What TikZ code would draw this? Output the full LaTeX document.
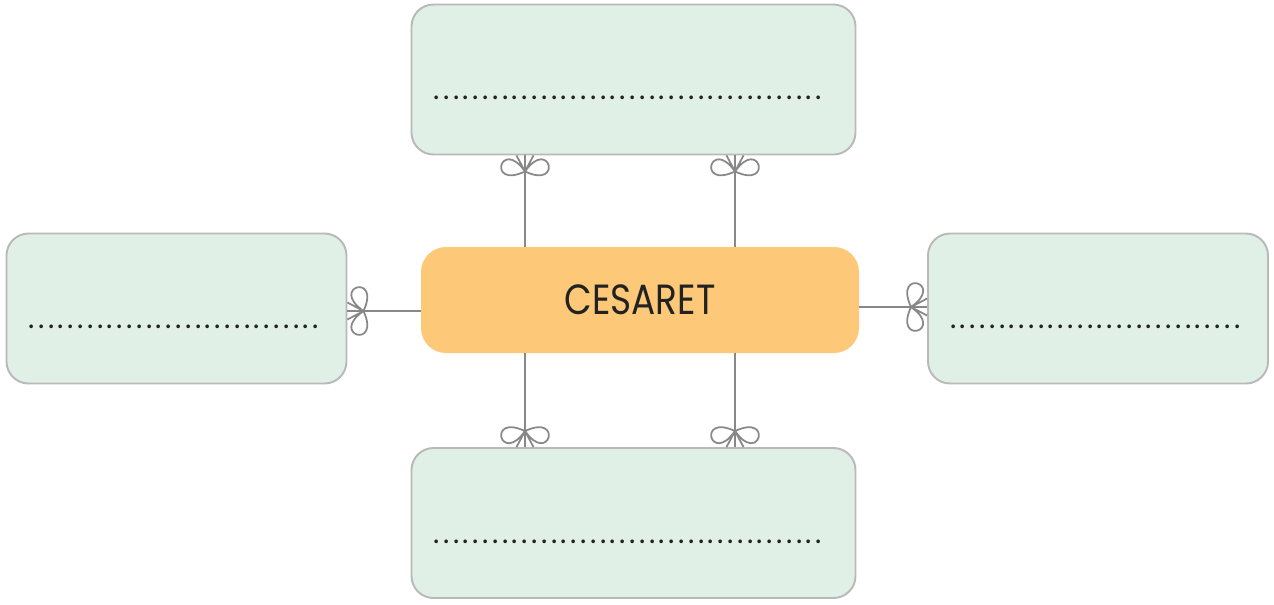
\documentclass[tikz,border=0pt]{standalone}
\usepackage{fontspec}
\setmainfont{Poppins}
\usetikzlibrary{positioning,decorations.markings}
\definecolor{kutuyesil}{HTML}{E1F0E6}
\definecolor{kutucizgi}{HTML}{B9B9B9}
\definecolor{merkezturuncu}{HTML}{FDC878}
\definecolor{baglantigri}{HTML}{888888}
\definecolor{yazisiyah}{HTML}{222222}

% fiyonk seklindeki uc
\newcommand{\fiyonk}{%
  \draw[draw=baglantigri, line width=1pt, line join=round]
    (-0.32,0) coordinate (k)
    (k) .. controls +(35:0.85) and +(115:0.85) .. (k)
    (k) .. controls +(-35:0.85) and +(-115:0.85) .. (k)
    (k) -- (0,0.17) (k) -- (0,-0.17);}

\begin{document}
\begin{tikzpicture}[
  kutu/.style={rectangle, rounded corners=0.44cm, draw=kutucizgi, line width=1.1pt, fill=kutuyesil,
    inner xsep=0.44cm, inner ysep=0pt, text height=0.8cm, text depth=0pt, align=left,
    font=\fontsize{17}{20}\selectfont\addfontfeature{LetterSpace=11.8}, text=yazisiyah},
  merkez/.style={rectangle, rounded corners=0.5cm, fill=merkezturuncu, minimum width=8.76cm,
    minimum height=2.12cm, font=\fontsize{24}{28}\selectfont\addfontfeature{FakeStretch=0.85},
    text=yazisiyah},
  baglanti/.style={draw=baglantigri, line width=1.1pt,
    postaction={decorate, decoration={markings, mark=at position 1 with {\fiyonk}}}}
]
  \useasboundingbox (0,0) rectangle (25.48,-12.08);

  \node[merkez] (cesaret) at (12.8,-6.0) {CESARET};
  \node[kutu, text width=8.0cm, minimum height=3.0cm] (ust) at (12.67,-1.59)
    {........................................};
  \node[kutu, text width=8.0cm, minimum height=3.0cm] (alt) at (12.67,-10.46)
    {........................................};
  \node[kutu, text width=5.92cm, minimum height=3.0cm] (sol) at (3.53,-6.17)
    {..............................};
  \node[kutu, text width=5.92cm, minimum height=3.0cm] (sag) at (21.96,-6.17)
    {..............................};

  \draw[baglanti] ([xshift=-2.3cm]cesaret.north) -- ([xshift=-2.3cm]cesaret.north |- ust.south);
  \draw[baglanti] ([xshift=1.9cm]cesaret.north) -- ([xshift=1.9cm]cesaret.north |- ust.south);
  \draw[baglanti] ([xshift=-2.3cm]cesaret.south) -- ([xshift=-2.3cm]cesaret.south |- alt.north);
  \draw[baglanti] ([xshift=1.9cm]cesaret.south) -- ([xshift=1.9cm]cesaret.south |- alt.north);
  \draw[baglanti] ([yshift=-0.22cm]cesaret.west) -- ([yshift=-0.22cm]cesaret.west -| sol.east);
  \draw[baglanti] ([yshift=-0.14cm]cesaret.east) -- ([yshift=-0.14cm]cesaret.east -| sag.west);
\end{tikzpicture}
\end{document}
